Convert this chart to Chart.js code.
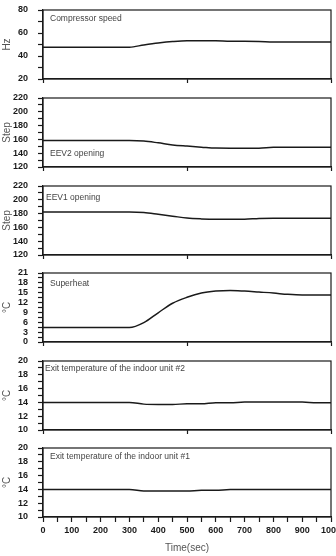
<!DOCTYPE html>
<html>
<head>
<meta charset="utf-8">
<script src="https://cdn.jsdelivr.net/npm/chart.js@4.4.0/dist/chart.umd.min.js"></script>
<style>
    html, body { margin: 0; padding: 0; background: #fff; }
    #wrap { position: relative; width: 336px; height: 556px; overflow: hidden; }
    #wrap canvas { position: absolute; left: 0; }
</style>
</head>
<body>
<div id="wrap"></div>
<script>
// Time axis (sec) shared by all six panels
const timeSec = [0, 50, 100, 150, 200, 250, 300, 350, 400, 450, 500, 550, 600, 650, 700, 750, 800, 850, 900, 950, 1000];
const xTicks = [0, 100, 200, 300, 400, 500, 600, 700, 800, 900, 1000];

// Series
const compressorHz = [47.7, 47.7, 47.7, 47.7, 47.7, 47.7, 47.7, 49.6, 51.3, 52.6, 53.3, 53.3, 53.3, 52.8, 52.8, 52.7, 52.2, 52.2, 52.2, 52.2, 52.2];
const eev2Step = [158.4, 158.4, 158.4, 158.4, 158.4, 158.4, 158.4, 157.6, 155, 152, 150.3, 148.8, 147.4, 147.3, 147.3, 147.3, 148.6, 148.6, 148.6, 148.6, 148.6];
const eev1Step = [182.3, 182.3, 182.3, 182.3, 182.3, 182.3, 182.3, 181.5, 179, 176.3, 173.5, 172.3, 171.8, 171.8, 171.8, 173, 173.2, 173.2, 173.2, 173.2, 173.2];
const superheatC = [4.4, 4.4, 4.4, 4.4, 4.4, 4.4, 4.4, 5.9, 8.9, 11.8, 13.6, 14.9, 15.5, 15.7, 15.5, 15.2, 14.9, 14.5, 14.3, 14.3, 14.3];
const exitTemp2C = [14, 14, 14, 14, 14, 14, 14, 13.75, 13.7, 13.7, 13.8, 13.8, 13.95, 13.95, 14.05, 14.05, 14.05, 14.05, 14.05, 13.95, 13.95];
const exitTemp1C = [14, 14, 14, 14, 14, 14, 14, 13.78, 13.76, 13.76, 13.76, 13.86, 13.86, 14, 14, 14, 14, 14, 14, 14, 14];

// Panel labels and axis titles
const panelLabels = ['Compressor speed', 'EEV2 opening', 'EEV1 opening', 'Superheat',
    'Exit temperature of the indoor unit #2', 'Exit temperature of the indoor unit #1'];
const yTitles = ['Hz', 'Step', 'Step', '°C', '°C', '°C'];
const xTitle = 'Time(sec)';

// Panel layout: y range, minor step, labelled step, where the label sits
const panels = [
    { values: compressorHz, min: 20, max: 80, step: 10, major: 20, top: 10, lx: 7, ly: 9 },
    { values: eev2Step, min: 120, max: 220, step: 10, major: 20, top: 98, lx: 7, ly: 56 },
    { values: eev1Step, min: 120, max: 220, step: 10, major: 20, top: 186, lx: 3, ly: 12 },
    { values: superheatC, min: 0, max: 21, step: 1.5, major: 3, top: 273, lx: 7, ly: 11 },
    { values: exitTemp2C, min: 10, max: 20, step: 1, major: 2, top: 361, lx: 2, ly: 8 },
    { values: exitTemp1C, min: 10, max: 20, step: 1, major: 2, top: 448, lx: 7, ly: 9 }
];

const PLOT_H = 69;
const TICK_FONT = { family: "'Liberation Sans Narrow', 'Liberation Sans', Arial, sans-serif", size: 9, weight: 'bold' };
const INK = '#1a1a1a';

// Draws the closed frame and the label inside each panel
const framePlugin = {
    id: 'frame',
    afterDraw(chart, args, opts) {
        const { ctx, chartArea: a } = chart;
        ctx.save();
        ctx.strokeStyle = INK;
        ctx.lineWidth = 1.2;
        ctx.strokeRect(a.left, a.top, a.right - a.left, a.bottom - a.top);
        ctx.fillStyle = '#444';
        ctx.font = "8.5px 'Liberation Sans', Arial, sans-serif";
        ctx.textBaseline = 'middle';
        ctx.fillText(opts.text, a.left + opts.x, a.top + opts.y);
        ctx.restore();
    }
};

const wrap = document.getElementById('wrap');

panels.forEach((p, i) => {
    const isLast = i === panels.length - 1;
    const xAxisH = isLast ? 39 : 6;
    const canvas = document.createElement('canvas');
    canvas.width = 336;
    canvas.height = 10 + PLOT_H + xAxisH;
    canvas.style.top = (p.top - 10) + 'px';
    wrap.appendChild(canvas);

    new Chart(canvas.getContext('2d'), {
        type: 'line',
        data: {
            datasets: [{
                data: timeSec.map((t, k) => ({ x: t, y: p.values[k] })),
                borderColor: INK,
                borderWidth: 1.5,
                pointRadius: 0,
                cubicInterpolationMode: 'monotone'
            }]
        },
        options: {
            responsive: false,
            animation: false,
            layout: { padding: { top: 10, right: 5, left: 0, bottom: 0 } },
            plugins: {
                legend: { display: false },
                tooltip: { enabled: false },
                frame: { text: panelLabels[i], x: p.lx, y: p.ly }
            },
            scales: {
                x: {
                    type: 'linear',
                    min: 0,
                    max: 1000,
                    afterFit: s => { s.height = xAxisH; s.paddingLeft = 0; s.paddingRight = 0; },
                    grid: { drawOnChartArea: false, tickLength: isLast ? 5 : 4, color: INK, tickWidth: 1.2 },
                    border: { color: INK, width: 1.2 },
                    ticks: {
                        stepSize: isLast ? 50 : 500,
                        autoSkip: false,
                        maxRotation: 0,
                        display: isLast,
                        padding: 3,
                        color: INK,
                        font: TICK_FONT,
                        callback: v => (xTicks.includes(v) ? String(v) : '')
                    },
                    title: {
                        display: isLast,
                        text: xTitle,
                        color: '#555',
                        font: { family: "'Liberation Sans', Arial, sans-serif", size: 10 },
                        padding: { top: 0, bottom: 2 }
                    }
                },
                y: {
                    min: p.min,
                    max: p.max,
                    afterFit: s => { s.width = 43; s.paddingTop = 0; s.paddingBottom = 0; },
                    grid: { drawOnChartArea: false, tickLength: 5, color: INK, tickWidth: 1.2 },
                    border: { color: INK, width: 1.2 },
                    ticks: {
                        stepSize: p.step,
                        autoSkip: false,
                        padding: 10,
                        color: INK,
                        font: TICK_FONT,
                        callback: v => (Math.abs(v / p.major - Math.round(v / p.major)) < 1e-6 ? String(v) : '')
                    },
                    title: {
                        display: true,
                        text: yTitles[i],
                        color: '#555',
                        font: { family: "'Liberation Sans', Arial, sans-serif", size: 10 },
                        padding: { top: 1, bottom: 0 }
                    }
                }
            }
        },
        plugins: [framePlugin]
    });
});
</script>
</body>
</html>
